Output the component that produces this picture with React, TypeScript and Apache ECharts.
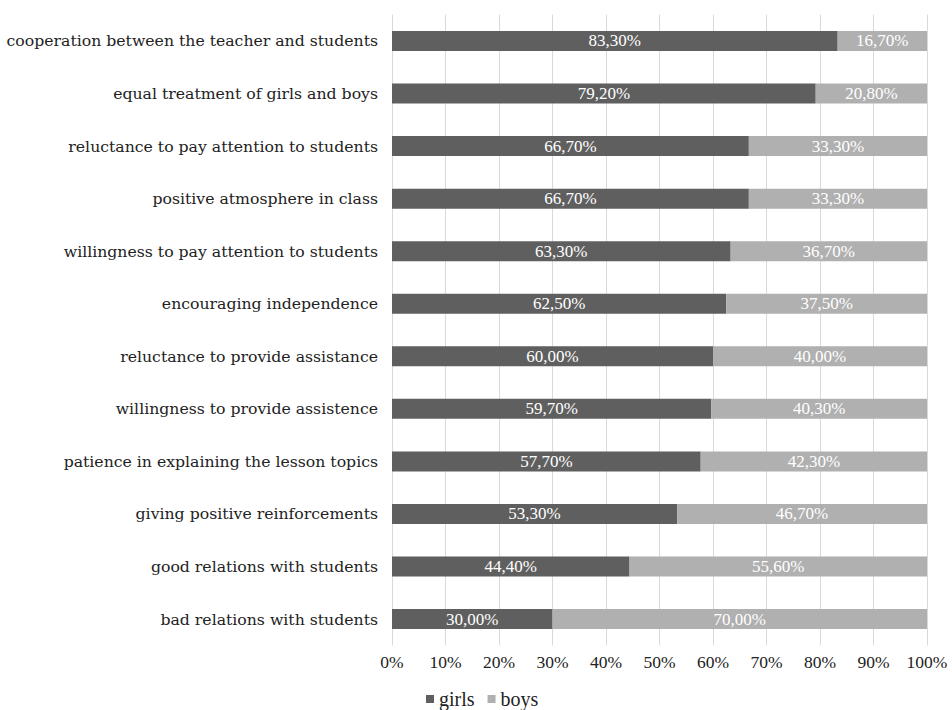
import React, { useEffect, useRef } from "react";
import * as echarts from "echarts";

const categories = [
  "cooperation between the teacher and students",
  "equal treatment of girls and boys",
  "reluctance to pay attention to students",
  "positive atmosphere in class",
  "willingness to pay attention to students",
  "encouraging independence",
  "reluctance to provide assistance",
  "willingness to provide assistence",
  "patience in explaining the lesson topics",
  "giving positive reinforcements",
  "good relations with students",
  "bad relations with students",
];
const girls = [83.3, 79.2, 66.7, 66.7, 63.3, 62.5, 60.0, 59.7, 57.7, 53.3, 44.4, 30.0];
const boys = [16.7, 20.8, 33.3, 33.3, 36.7, 37.5, 40.0, 40.3, 42.3, 46.7, 55.6, 70.0];

const fmt = (v: number) => v.toFixed(2).replace(".", ",") + "%";
const SERIF = "'Liberation Serif', serif";

export default function App() {
  const ref = useRef<HTMLDivElement>(null);
  useEffect(() => {
    const chart = echarts.init(ref.current!, undefined, { renderer: "svg" });
    const labelStyle = {
      show: true,
      position: "inside" as const,
      color: "#ffffff",
      fontFamily: SERIF,
      fontSize: 17,
      formatter: (p: any) => fmt(p.value),
    };
    const legendText = { fontFamily: SERIF, fontSize: 20, color: "#222" };
    chart.setOption({
      animation: false,
      backgroundColor: "#ffffff",
      textStyle: { fontFamily: SERIF },
      grid: { left: 392, right: 25, top: 14.7, height: 630.6, containLabel: false },
      legend: {
        top: 689,
        left: 426,
        padding: 0,
        itemWidth: 8,
        itemHeight: 8,
        itemGap: 13,
        icon: "rect",
        textStyle: legendText,
        data: [
          { name: "girls", itemStyle: { color: "#5f5f5f" }, textStyle: legendText },
          { name: "boys", itemStyle: { color: "#b0b0b0" }, textStyle: legendText },
        ],
      },
      xAxis: {
        type: "value",
        min: 0,
        max: 100,
        interval: 10,
        axisLine: { show: false },
        axisTick: { show: false },
        splitLine: { show: true, lineStyle: { color: "#d9d9d9", width: 1 } },
        axisLabel: {
          formatter: (v: number) => v + "%",
          fontFamily: SERIF,
          fontSize: 17.5,
          color: "#222",
          margin: 8,
        },
      },
      yAxis: {
        type: "category",
        inverse: true,
        data: categories,
        axisLine: { show: false },
        axisTick: { show: false },
        axisLabel: {
          fontFamily: "'DejaVu Serif', serif",
          fontSize: 15.7,
          color: "#222",
          margin: 14,
        },
      },
      series: [
        {
          name: "girls",
          type: "bar",
          stack: "total",
          barWidth: 20,
          data: girls,
          itemStyle: { color: "#5f5f5f" },
          label: labelStyle,
        },
        {
          name: "boys",
          type: "bar",
          stack: "total",
          barWidth: 20,
          data: boys,
          itemStyle: { color: "#b0b0b0" },
          label: labelStyle,
        },
      ],
    });
    return () => chart.dispose();
  }, []);
  return (
    <div
      ref={ref}
      style={{ position: "fixed", left: 0, top: 0, width: 952, height: 710 }}
    />
  );
}
